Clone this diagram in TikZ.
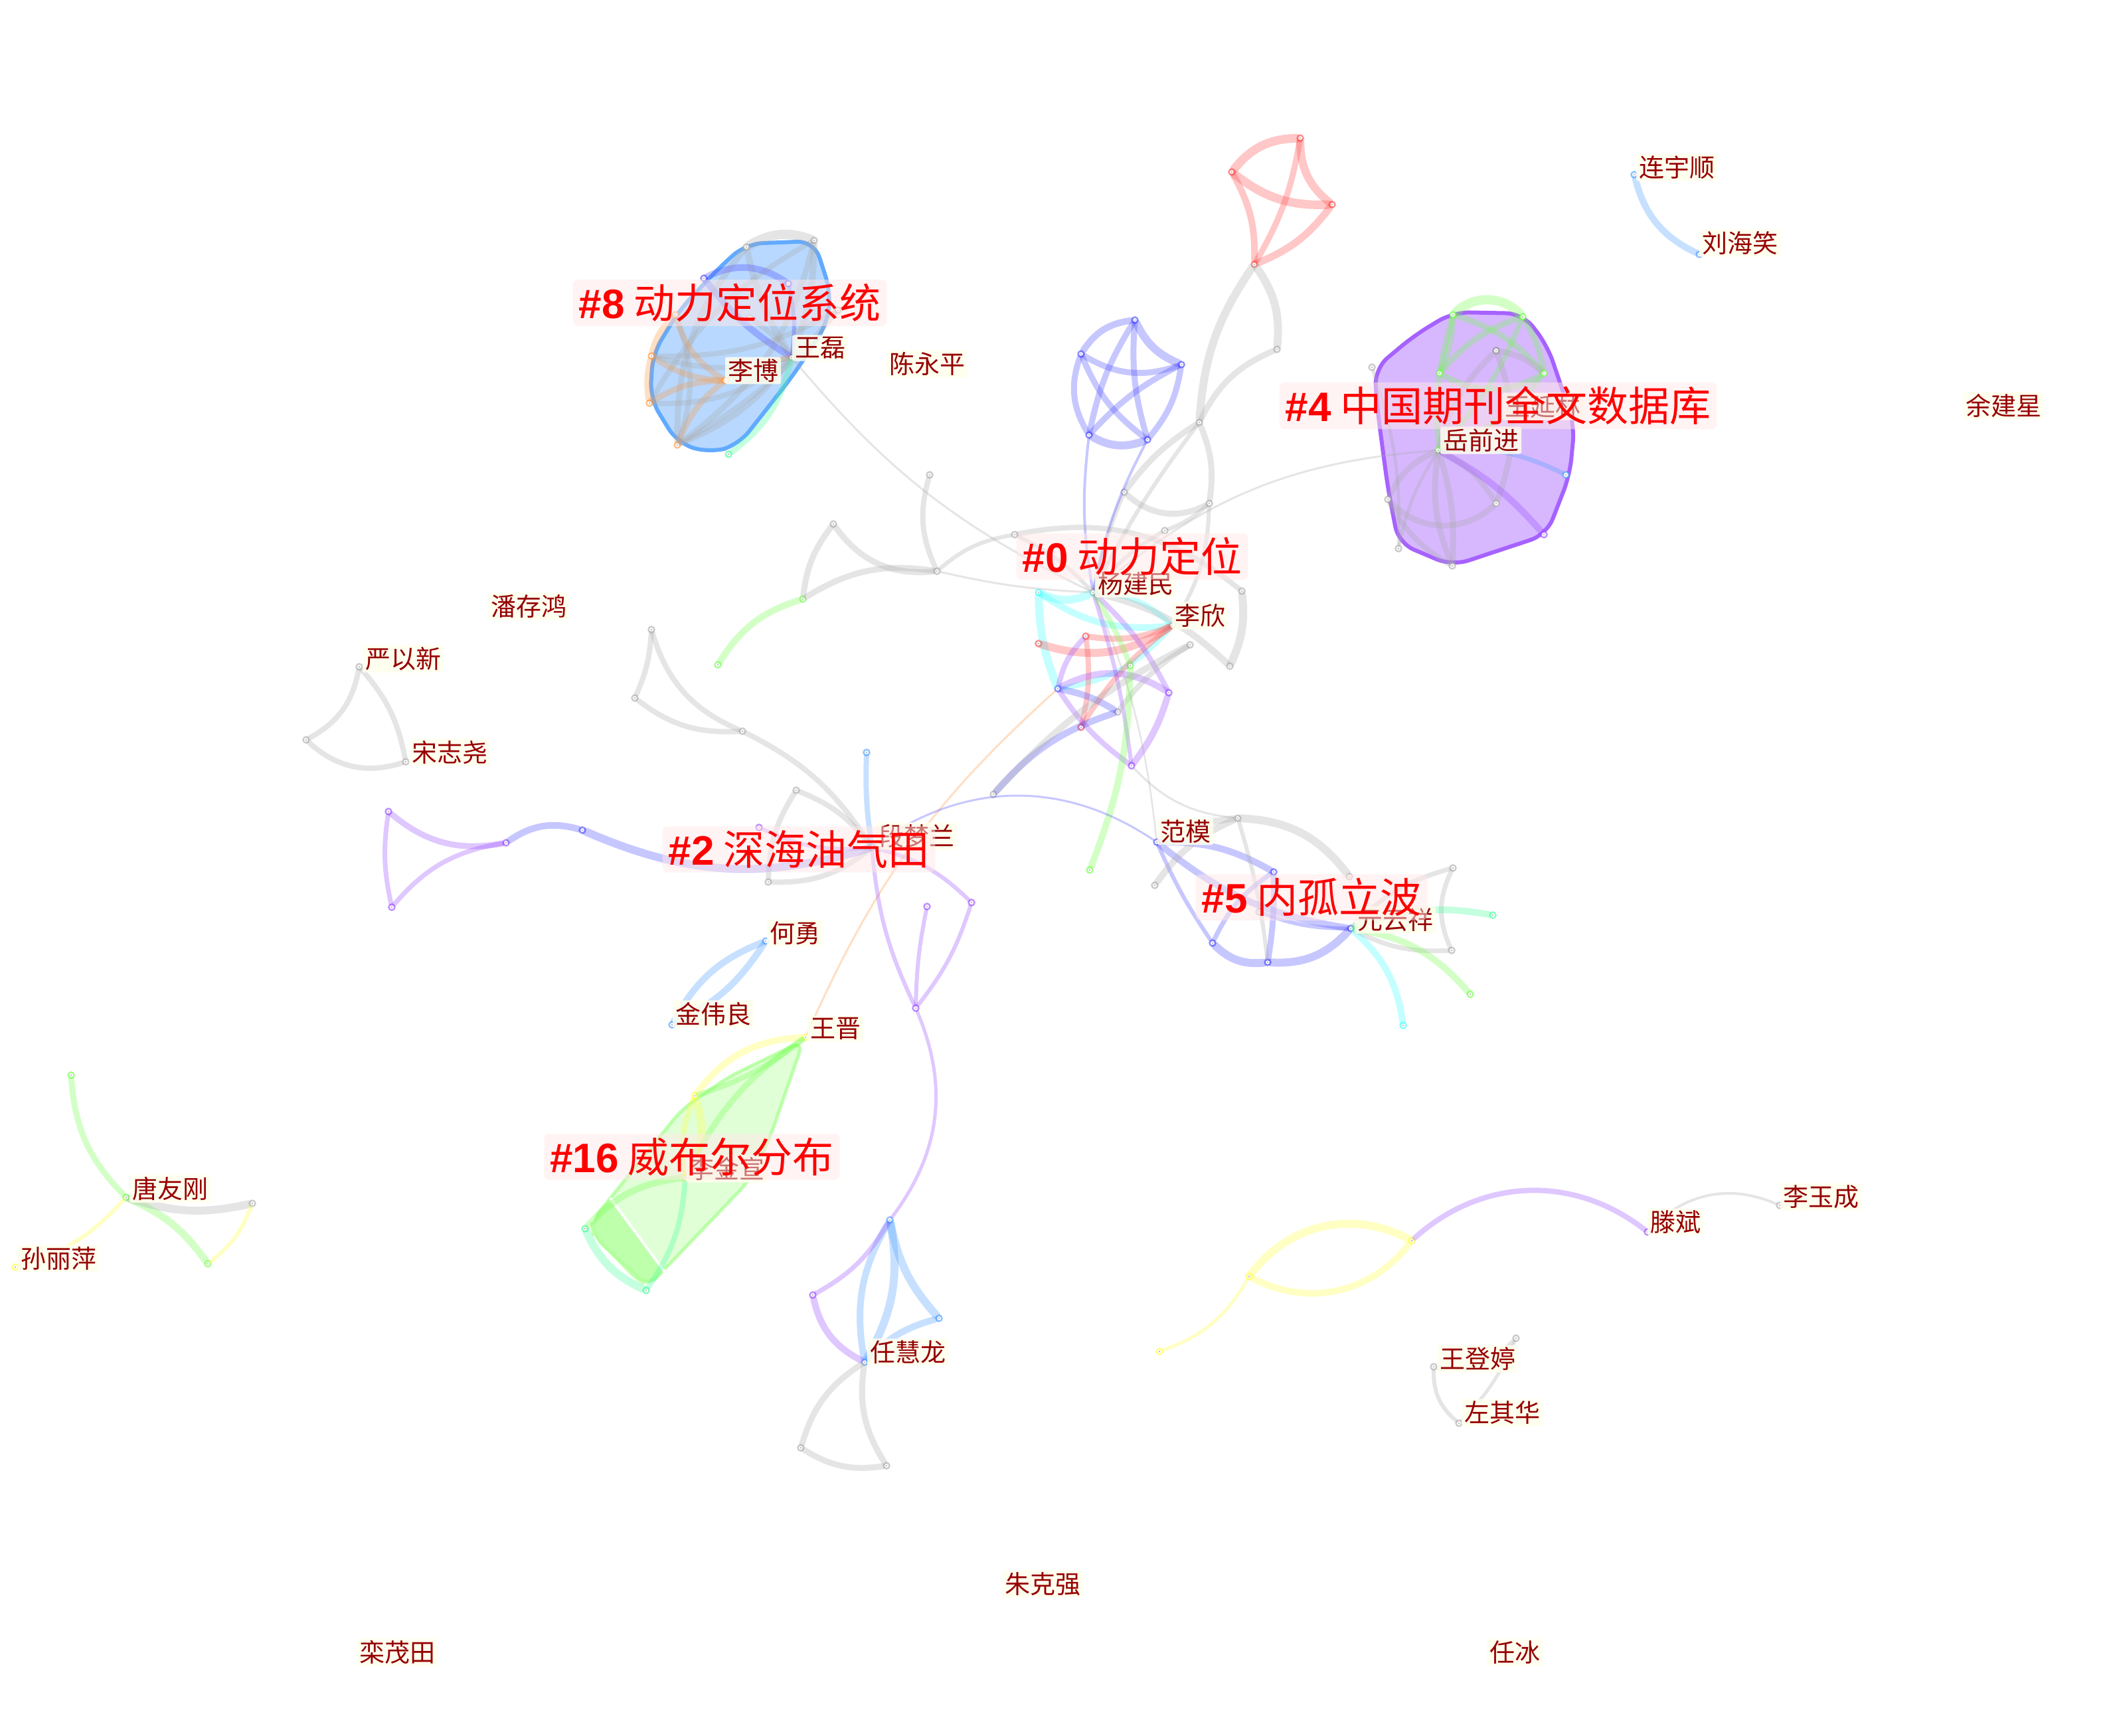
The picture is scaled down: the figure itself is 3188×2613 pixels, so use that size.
\documentclass[tikz,border=0pt]{standalone}
\usepackage{fontspec}
\newfontfamily\cjk{Noto Sans CJK SC}
\newfontfamily\latinb{Liberation Sans}
\definecolor{cgray}{RGB}{170,170,170}
\definecolor{cblue}{RGB}{70,70,255}
\definecolor{cred}{RGB}{255,70,70}
\definecolor{ccyan}{RGB}{60,255,255}
\definecolor{cpurple}{RGB}{150,70,255}
\definecolor{cgreen}{RGB}{110,255,70}
\definecolor{cyellow}{RGB}{255,255,60}
\definecolor{corange}{RGB}{255,150,60}
\definecolor{cteal}{RGB}{60,255,150}
\definecolor{clblue}{RGB}{70,155,255}
\definecolor{authred}{RGB}{150,0,0}
\definecolor{ivory}{RGB}{255,255,238}
\definecolor{labpink}{RGB}{255,232,232}
\tikzset{
  edgebase/.style={line cap=round, draw opacity=0.3},
  eG/.style={edgebase, draw=cgray, line width=#1}, eG/.default=10pt,
  eB/.style={edgebase, draw=cblue, line width=#1}, eB/.default=10pt,
  eR/.style={edgebase, draw=cred, line width=#1}, eR/.default=10pt,
  eC/.style={edgebase, draw=ccyan, line width=#1}, eC/.default=10pt,
  eP/.style={edgebase, draw=cpurple, line width=#1}, eP/.default=10pt,
  eN/.style={edgebase, draw=cgreen, line width=#1}, eN/.default=10pt,
  eY/.style={edgebase, draw=cyellow, line width=#1}, eY/.default=10pt,
  eO/.style={edgebase, draw=corange, line width=#1}, eO/.default=10pt,
  eT/.style={edgebase, draw=cteal, line width=#1}, eT/.default=10pt,
  eL/.style={edgebase, draw=clblue, line width=#1}, eL/.default=10pt,
  nd/.style={circle, inner sep=0pt, minimum size=9pt, fill=white, draw=#1, line width=2.5pt, draw opacity=0.6},
  nd/.default=cgray,
  alab/.style={fill=ivory, fill opacity=0.85, text opacity=1, text=authred, rounded corners=3pt,
    font=\cjk\fontsize{38}{40}\selectfont, inner xsep=4pt, inner ysep=3pt},
  clab/.style={fill=labpink, fill opacity=0.5, text opacity=1, text=red, rounded corners=8pt,
    font=\cjk\fontsize{62}{70}\selectfont, inner xsep=9pt, inner ysep=6pt},
  hullA/.style={fill=clblue!45, fill opacity=0.85, draw=clblue!85, line width=6pt, rounded corners=25pt, line join=round},
  hullB/.style={fill=cpurple!45, fill opacity=0.85, draw=cpurple!85, line width=6pt, rounded corners=25pt, line join=round},
  hullC/.style={fill=cgreen!30, fill opacity=0.7, draw=cgreen!70, draw opacity=0.6, line width=5pt, rounded corners=20pt, line join=round},
}
\begin{document}
\begin{tikzpicture}[x=1pt,y=-1pt]
\useasboundingbox (0,0) rectangle (3188,2613);
\fill[white] (0,0) rectangle (3188,2613);

% ---------------- hulls
\path[hullA] (1124,367) -- (1226,363) -- (1251,440) -- (1246,487) -- (1193,567) -- (1112,670) -- (1068,682) -- (1020,667) -- (979,600) -- (983,533) -- (1023,467) -- (1086,400) -- cycle;
\path[hullB] (2188,470) -- (2293,472) -- (2330,520) -- (2371,640) -- (2364,715) -- (2329,805) -- (2187,852) -- (2106,818) -- (2090,735) -- (2074,615) -- (2070,555) -- (2130,505) -- cycle;
\path[hullC] (1210,1567) -- (1159,1714) -- (1129,1777) -- (976,1937) -- (894,1862) -- (891,1839) -- (1027,1670) -- (1098,1621) -- cycle;
\fill[cgreen!55, fill opacity=0.7, rounded corners=15pt] (919,1804) -- (891,1839) -- (894,1862) -- (960,1931) -- (976,1937) -- (1001,1915) -- cycle;
\draw[white, line width=4pt] (919,1804) -- (1001,1915);

% ---------------- nodes
% cluster 8
\node[nd] (a1) at (1124,372) {};
\node[nd] (a2) at (1226,362) {};
\node[nd=cblue] (a3) at (1060,419) {};
\node[nd=cblue] (a4) at (1187,427) {};
\node[nd] (a5) at (1129,479) {};
\node[nd] (a6) at (1262,467) {};
\node[nd=corange] (a7) at (1017,474) {};
\node[nd=corange] (a8) at (981,536) {};
\node[nd] (wl) at (1192,538) {};
\node[nd=corange] (lb) at (1092,573) {};
\node[nd=corange] (a9) at (978,607) {};
\node[nd=corange] (a10) at (1020,670) {};
\node[nd=cteal] (a11) at (1097,684) {};
% cluster 4
\node[nd=cgreen] (p1) at (2188,474) {};
\node[nd=cgreen] (p2) at (2293,477) {};
\node[nd=cgreen] (p3) at (2168,562) {};
\node[nd=cgreen] (p4) at (2325,562) {};
\node[nd=gray] (p5) at (2253,528) {};
\node[nd=cgreen] (yq) at (2166,678) {};
\node[nd=clblue] (q1) at (2358,715) {};
\node[nd] (q2) at (2090,752) {};
\node[nd] (q3) at (2253,758) {};
\node[nd] (q4) at (2187,852) {};
\node[nd=cpurple] (q5) at (2325,805) {};
\node[nd] (q6) at (2106,826) {};
\node[nd] (q7) at (2066,553) {};
% red cluster
\node[nd=cred] (r1) at (1958,208) {};
\node[nd=cred] (r2) at (1855,259) {};
\node[nd=cred] (r3) at (2006,308) {};
\node[nd=cred] (r4) at (1889,398) {};
% gray chain
\node[nd] (g1) at (1923,526) {};
\node[nd] (g2) at (1806,636) {};
\node[nd] (g3) at (1693,741) {};
\node[nd] (g4) at (1821,758) {};
% blue pentagon
\node[nd=cblue] (b1) at (1709,482) {};
\node[nd=cblue] (b2) at (1628,533) {};
\node[nd=cblue] (b3) at (1779,549) {};
\node[nd=cblue] (b4) at (1640,655) {};
\node[nd=cblue] (b5) at (1728,662) {};
% cluster 0
\node[nd] (yjm) at (1646,892) {};
\node[nd=ccyan] (c1) at (1564,892) {};
\node[nd] (lx) at (1765,942) {};
\node[nd=cred] (r5) at (1635,958) {};
\node[nd=cred] (r6) at (1564,969) {};
\node[nd] (c2) at (1792,971) {};
\node[nd] (c3) at (1852,1003) {};
\node[nd] (c4) at (1870,890) {};
\node[nd] (c5) at (1754,799) {};
\node[nd] (c6) at (1528,805) {};
\node[nd] (c7) at (1411,860) {};
\node[nd=cgreen] (gr1) at (1702,1002) {};
\node[nd=cblue] (bl1) at (1593,1037) {};
\node[nd=cpurple] (pu1) at (1760,1043) {};
\node[nd] (c8) at (1683,1072) {};
\node[nd=cred] (r7) at (1628,1095) {};
\node[nd=cpurple] (pu2) at (1704,1153) {};
\node[nd] (c9) at (1496,1196) {};
\node[nd=cgreen] (gre1) at (1641,1310) {};
% left gray group
\node[nd] (n1) at (1400,715) {};
\node[nd] (n2) at (1255,789) {};
\node[nd=cgreen] (gn) at (1209,902) {};
\node[nd=cgreen] (gne) at (1081,1001) {};
\node[nd] (k1) at (1118,1101) {};
\node[nd] (k2) at (956,1051) {};
\node[nd] (k3) at (981,948) {};
% cluster 2
\node[nd] (dml) at (1313,1276) {};
\node[nd=clblue] (d1) at (1305,1133) {};
\node[nd] (d2) at (1199,1190) {};
\node[nd] (d3) at (1157,1328) {};
\node[nd=cpurple] (d4) at (1143,1246) {};
\node[nd=cpurple] (pa) at (1396,1365) {};
\node[nd=cpurple] (pb) at (1463,1359) {};
\node[nd=cpurple] (pc) at (1379,1518) {};
\node[nd=cblue] (e1) at (877,1250) {};
\node[nd=cpurple] (e2) at (762,1269) {};
\node[nd=cpurple] (e3) at (585,1222) {};
\node[nd=cpurple] (e4) at (590,1366) {};
% cluster 5
\node[nd=cblue] (fm) at (1742,1268) {};
\node[nd] (c10) at (1864,1232) {};
\node[nd=cblue] (f1) at (1918,1313) {};
\node[nd=cblue] (f2) at (1826,1420) {};
\node[nd=cblue] (f3) at (1909,1449) {};
\node[nd=cblue] (yyx) at (2034,1398) {};
\node[nd] (f4) at (1896,1373) {};
\node[nd] (f5) at (1739,1333) {};
\node[nd] (f6) at (2032,1320) {};
\node[nd] (f7) at (2188,1307) {};
\node[nd] (f8) at (2186,1431) {};
\node[nd=cteal] (t1) at (2248,1378) {};
\node[nd=cgreen] (t2) at (2214,1497) {};
\node[nd=ccyan] (t3) at (2113,1544) {};
% jin / he
\node[nd=clblue] (jwl) at (1012,1543) {};
\node[nd=clblue] (hy) at (1153,1417) {};
% cluster 16
\node[nd=cyellow] (wj) at (1213,1562) {};
\node[nd=cyellow] (h1) at (1046,1650) {};
\node[nd=cyellow] (ljx) at (1032,1773) {};
\node[nd=cteal] (h2) at (881,1850) {};
\node[nd=cteal] (h3) at (973,1943) {};
% ren huilong
\node[nd=clblue] (rb1) at (1340,1837) {};
\node[nd=cpurple] (rp) at (1224,1950) {};
\node[nd=clblue] (rb2) at (1414,1985) {};
\node[nd=clblue] (rhl) at (1302,2051) {};
\node[nd] (rg1) at (1206,2180) {};
\node[nd] (rg2) at (1335,2207) {};
% yan yixin
\node[nd] (yyxn) at (541,1004) {};
\node[nd] (s1) at (461,1114) {};
\node[nd] (szy) at (611,1147) {};
% tang yougang
\node[nd=cgreen] (tg0) at (107,1619) {};
\node[nd=cgreen] (tyg) at (190,1803) {};
\node[nd] (tg1) at (380,1812) {};
\node[nd=cgreen] (tg2) at (313,1903) {};
\node[nd=cyellow] (slp) at (23,1908) {};
% lian / liu
\node[nd=clblue] (lys) at (2461,263) {};
\node[nd=clblue] (lhx) at (2559,383) {};
% bottom right
\node[nd=cyellow] (y0) at (1746,2035) {};
\node[nd=cyellow] (y1) at (1881,1922) {};
\node[nd=cyellow] (y2) at (2126,1868) {};
\node[nd=cpurple] (tb) at (2481,1855) {};
\node[nd] (lyc) at (2680,1815) {};
\node[nd] (wdt) at (2159,2058) {};
\node[nd] (w1) at (2283,2015) {};
\node[nd] (zqh) at (2197,2143) {};

% ---------------- edges
\begin{scope}
% cluster 8
\draw[eG=14pt] (a1) to[bend left=25] (a2);
\draw[eG=10pt] (a1) to[bend right=10] (wl);
\draw[eG=10pt] (a2) to[bend left=10] (wl);
\draw[eG=9pt] (a1) to[bend right=20] (a10);
\draw[eG=9pt] (a2) to[bend left=20] (a10);
\draw[eG=8pt] (a5) to[bend left=10] (wl);
\draw[eG=8pt] (a6) to[bend left=15] (a8);
\draw[eG=8pt] (a6) to[bend left=10] (a10);
\draw[eG=8pt] (a2) to[bend right=15] (a9);
\draw[eB=10pt] (a3) to[bend left=30] (a4);
\draw[eB=10pt] (a3) to[bend right=10] (wl);
\draw[eB=6pt] (a4) to[bend left=10] (wl);
\draw[eO=10pt] (a7) to[bend right=15] (a8);
\draw[eO=10pt] (a8) to[bend right=10] (a9);
\draw[eO=9pt] (a8) to[bend right=15] (lb);
\draw[eO=9pt] (a9) to[bend left=15] (lb);
\draw[eO=9pt] (a7) to[bend right=20] (lb);
\draw[eO=9pt] (a10) to[bend left=15] (lb);
\draw[eO=8pt] (lb) to[bend left=10] (wl);
\draw[eG=8pt] (a8) to[bend right=15] (wl);
\draw[eG=8pt] (a9) to[bend right=20] (wl);
\draw[eG=8pt] (a10) to[bend right=15] (wl);
\draw[eG=8pt] (a7) to[bend left=20] (a10);
\draw[eT=9pt] (a11) to[bend right=20] (wl);
\draw[eG=3pt] (wl) to[bend right=12] (yjm);
% cluster 4
\draw[eN=14pt] (p1) to[bend left=45] (p2);
\draw[eN=9pt] (p1) to[bend left=10] (p3);
\draw[eN=9pt] (p1) to[bend left=15] (p4);
\draw[eN=9pt] (p2) to[bend right=15] (p3);
\draw[eN=9pt] (p2) to[bend left=10] (p4);
\draw[eN=9pt] (p3) to[bend right=30] (p4);
\draw[eN=8pt] (p1) to[bend right=10] (yq);
\draw[eN=8pt] (p2) to[bend left=10] (yq);
\draw[eN=8pt] (p4) to[bend left=15] (yq);
\draw[eG=9pt] (p5) to[bend left=15] (p4);
\draw[eG=9pt] (p5) to[bend right=15] (yq);
\draw[eG=9pt] (p5) to[bend left=20] (q3);
\draw[eG=9pt] (yq) to[bend right=20] (q2);
\draw[eG=9pt] (q2) to[bend right=45] (q3);
\draw[eG=9pt] (yq) to[bend right=15] (q4);
\draw[eG=9pt] (yq) to[bend left=10] (q4);
\draw[eG=8pt] (q2) to[bend right=15] (q4);
\draw[eG=8pt] (yq) to[bend left=15] (q3);
\draw[eG=5pt] (yq) to[bend right=10] (q6);
\draw[eG=5pt] (q7) to[bend left=10] (q6);
\draw[eP=10pt] (yq) to[bend left=10] (q5);
\draw[eL=7pt] (yq) to[bend left=15] (q1);
\draw[eG=3pt] (yq) to[bend right=18] (yjm);
% red cluster
\draw[eR=13pt] (r2) to[bend left=25] (r1);
\draw[eR=13pt] (r2) to[bend right=20] (r3);
\draw[eR=10pt] (r2) to[bend left=15] (r4);
\draw[eR=12pt] (r1) to[bend right=25] (r3);
\draw[eR=9pt] (r1) to[bend left=10] (r4);
\draw[eR=11pt] (r3) to[bend left=15] (r4);
% gray chain
\draw[eG=12pt] (r4) to[bend right=15] (g2);
\draw[eG=12pt] (r4) to[bend left=20] (g1);
\draw[eG=9pt] (g1) to[bend right=20] (g2);
\draw[eG=9pt] (g2) to[bend right=10] (g3);
\draw[eG=9pt] (g2) to[bend left=15] (g4);
\draw[eG=9pt] (g3) to[bend right=35] (g4);
\draw[eG=6pt] (g2) to[bend right=5] (yjm);
\draw[eG=6pt] (g3) to[bend right=5] (yjm);
\draw[eG=6pt] (g4) to[bend left=10] (c5);
\draw[eG=6pt] (c5) to[bend right=10] (yjm);
\draw[eG=6pt] (g4) to[bend left=15] (lx);
% blue pentagon
\draw[eB=10pt] (b1) to[bend right=25] (b2);
\draw[eB=12pt] (b1) to[bend right=20] (b3);
\draw[eB=9pt] (b1) to[bend right=10] (b4);
\draw[eB=9pt] (b1) to[bend right=10] (b5);
\draw[eB=9pt] (b2) to[bend right=25] (b3);
\draw[eB=9pt] (b2) to[bend right=25] (b4);
\draw[eB=9pt] (b2) to[bend right=15] (b5);
\draw[eB=9pt] (b3) to[bend right=10] (b4);
\draw[eB=9pt] (b3) to[bend left=15] (b5);
\draw[eB=12pt] (b4) to[bend right=25] (b5);
\draw[eB=4pt] (b4) to[bend right=8] (yjm);
\draw[eB=4pt] (b5) to[bend right=8] (yjm);
% cluster 0
\draw[eC=12pt] (c1) to[bend right=25] (yjm);
\draw[eC=10pt] (c1) to[bend right=20] (lx);
\draw[eC=8pt] (yjm) to[bend left=20] (lx);
\draw[eC=12pt] (c1) to[bend right=10] (bl1);
\draw[eC=8pt] (bl1) to[bend right=20] (lx);
\draw[eR=12pt] (r6) to[bend right=25] (lx);
\draw[eR=9pt] (r5) to[bend right=15] (lx);
\draw[eR=8pt] (r5) to[bend left=10] (r7);
\draw[eR=8pt] (r7) to[bend left=10] (lx);
\draw[eP=8pt] (yjm) to[bend left=10] (pu1);
\draw[eP=6pt] (yjm) to[bend left=5] (pu2);
\draw[eP=10pt] (bl1) to[bend left=30] (pu1);
\draw[eP=8pt] (bl1) to[bend right=10] (pu2);
\draw[eP=10pt] (pu1) to[bend left=10] (pu2);
\draw[eP=8pt] (r5) to[bend right=15] (bl1);
\draw[eB=10pt] (bl1) to[bend left=10] (c8);
\draw[eB=10pt] (c8) to[bend right=15] (c9);
\draw[eG=10pt] (c2) to[bend right=10] (c9);
\draw[eG=8pt] (c8) to[bend left=10] (c2);
\draw[eG=12pt] (c4) to[bend left=15] (c3);
\draw[eG=10pt] (yjm) to[bend left=15] (c3);
\draw[eG=8pt] (c6) to[bend left=25] (c4);
\draw[eG=6pt] (c7) to[bend left=15] (c6);
\draw[eG=3pt] (c7) to[bend right=5] (yjm);
\draw[eG=6pt] (c6) to[bend left=10] (yjm);
\draw[eN=8pt] (yjm) to[bend left=5] (gr1);
\draw[eN=10pt] (gr1) to[bend left=10] (gre1);
\draw[eG=3pt] (pu2) to[bend right=20] (c10);
\draw[eG=2.5pt] (yjm) to[bend left=8] (fm);
\draw[eO=3pt] (bl1) to[bend right=12] (wj);
% left gray group
\draw[eG=8pt] (n1) to[bend right=20] (c7);
\draw[eG=9pt] (n2) to[bend right=30] (c7);
\draw[eG=9pt] (n2) to[bend right=15] (gn);
\draw[eG=9pt] (gn) to[bend left=20] (c7);
\draw[eN=10pt] (gn) to[bend right=20] (gne);
\draw[eG=8pt] (k3) to[bend left=10] (k2);
\draw[eG=8pt] (k3) to[bend right=25] (k1);
\draw[eG=8pt] (k2) to[bend right=20] (k1);
\draw[eG=8pt] (k1) to[bend left=15] (dml);
% cluster 2
\draw[eL=8pt] (d1) to[bend right=5] (dml);
\draw[eG=8pt] (d2) to[bend left=15] (dml);
\draw[eG=8pt] (d3) to[bend right=20] (dml);
\draw[eG=8pt] (d2) to[bend right=15] (d3);
\draw[eP=6pt] (d4) to[bend right=15] (dml);
\draw[eP=6pt] (dml) to[bend right=10] (pc);
\draw[eP=6pt] (dml) to[bend left=15] (pb);
\draw[eP=6pt] (pa) to[bend right=5] (pc);
\draw[eP=6pt] (pb) to[bend left=10] (pc);
\draw[eB=12pt] (e1) to[bend right=20] (dml);
\draw[eB=10pt] (e2) to[bend left=25] (e1);
\draw[eP=9pt] (e3) to[bend right=25] (e2);
\draw[eP=7pt] (e3) to[bend right=10] (e4);
\draw[eP=7pt] (e4) to[bend left=20] (e2);
\draw[eB=3pt] (dml) to[bend left=35] (fm);
\draw[eP=5pt] (pc) to[bend left=30] (rb1);
% cluster 5
\draw[eB=10pt] (fm) to[bend left=15] (f1);
\draw[eB=10pt] (fm) to[bend right=15] (yyx);
\draw[eB=6pt] (fm) to[bend right=5] (f2);
\draw[eB=9pt] (f1) to[bend left=5] (f3);
\draw[eB=12pt] (f2) to[bend right=25] (f3);
\draw[eB=7pt] (f2) to[bend left=15] (f1);
\draw[eB=12pt] (f3) to[bend right=25] (yyx);
\draw[eB=6pt] (f4) to[bend right=10] (yyx);
\draw[eG=10pt] (c10) to[bend right=10] (fm);
\draw[eG=10pt] (c10) to[bend right=15] (f5);
\draw[eG=12pt] (c10) to[bend left=25] (f6);
\draw[eG=6pt] (c10) to[bend left=5] (f3);
\draw[eG=7pt] (f7) to[bend right=25] (f8);
\draw[eG=7pt] (f7) to[bend right=15] (yyx);
\draw[eG=7pt] (f8) to[bend left=15] (yyx);
\draw[eT=10pt] (yyx) to[bend left=15] (t1);
\draw[eN=10pt] (yyx) to[bend left=20] (t2);
\draw[eC=10pt] (yyx) to[bend left=20] (t3);
% jin / he
\draw[eL=10pt] (jwl) to[bend left=20] (hy);
\draw[eL=10pt] (jwl) to[bend right=15] (hy);
% cluster 16
\draw[eY=10pt] (h1) to[bend left=25] (wj);
\draw[eN=8pt] (wj) to[bend left=10] (h1);
\draw[eN=9pt] (wj) to[bend right=15] (ljx);
\draw[eY=12pt] (h1) to[bend left=25] (ljx);
\draw[eY=8pt] (h1) to[bend right=15] (ljx);
\draw[eN=10pt] (ljx) to[bend right=20] (h2);
\draw[eT=12pt] (h2) to[bend right=20] (h3);
\draw[eT=8pt] (ljx) to[bend left=15] (h3);
% ren huilong
\draw[eL=10pt] (rb1) to[bend right=20] (rhl);
\draw[eL=12pt] (rb1) to[bend left=20] (rhl);
\draw[eL=12pt] (rb1) to[bend right=15] (rb2);
\draw[eL=10pt] (rb2) to[bend right=15] (rhl);
\draw[eP=10pt] (rp) to[bend right=25] (rhl);
\draw[eP=7pt] (rp) to[bend right=15] (rb1);
\draw[eG=9pt] (rhl) to[bend right=20] (rg1);
\draw[eG=9pt] (rhl) to[bend right=20] (rg2);
\draw[eG=9pt] (rg1) to[bend right=20] (rg2);
% yan yixin
\draw[eG=8pt] (yyxn) to[bend left=25] (s1);
\draw[eG=8pt] (yyxn) to[bend left=15] (szy);
\draw[eG=8pt] (s1) to[bend right=30] (szy);
% tang yougang
\draw[eN=9pt] (tg0) to[bend right=20] (tyg);
\draw[eN=11pt] (tyg) to[bend left=15] (tg2);
\draw[eG=12pt] (tyg) to[bend right=15] (tg1);
\draw[eY=6pt] (tg1) to[bend left=15] (tg2);
\draw[eY=6pt] (tyg) to[bend left=15] (slp);
% lian / liu
\draw[eL=10pt] (lys) to[bend right=25] (lhx);
% bottom right
\draw[eY=5pt] (y0) to[bend right=20] (y1);
\draw[eY=12pt] (y1) to[bend left=40] (y2);
\draw[eY=10pt] (y1) to[bend right=40] (y2);
\draw[eP=8pt] (y2) to[bend left=40] (tb);
\draw[eG=4pt] (tb) to[bend left=35] (lyc);
\draw[eG=6pt] (wdt) to[bend right=25] (zqh);
\draw[eG=6pt] (wdt) to[bend right=25] (w1);
\draw[eG=5pt] (w1) to[bend left=10] (zqh);
\end{scope}

% node centres on top of edges
\foreach \n in {a1,a2,a3,a4,a5,a6,a7,a8,wl,lb,a9,a10,a11,p1,p2,p3,p4,p5,yq,q1,q2,q3,q4,q5,q6,q7,r1,r2,r3,r4,g1,g2,g3,g4,b1,b2,b3,b4,b5,yjm,c1,lx,r5,r6,c2,c3,c4,c5,c6,c7,gr1,bl1,pu1,c8,r7,pu2,c9,gre1,n1,n2,gn,gne,k1,k2,k3,dml,d1,d2,d3,d4,pa,pb,pc,e1,e2,e3,e4,fm,c10,f1,f2,f3,yyx,f4,f5,f6,f7,f8,t1,t2,t3,jwl,hy,wj,h1,ljx,h2,h3,rb1,rp,rb2,rhl,rg1,rg2,yyxn,s1,szy,tg0,tyg,tg1,tg2,slp,lys,lhx,y0,y1,y2,tb,lyc,wdt,w1,zqh}
  {\fill[white] (\n.center) circle (2.6pt); \fill[gray!70] (\n.center) circle (1.2pt);}

% ---------------- author labels
\node[alab] (tWL) at (1235,524) {王磊};
\node[alab] (tLB) at (1134,558) {李博};
\node[alab] (tCYP) at (1396,548) {陈永平};
\node[alab] (tYQJ) at (2230,663) {岳前进};
\node[alab] (tWYL) at (2323,612) {王延林};
\node[alab] (tYJM) at (1710,879) {杨建民};
\node[alab] (tLX) at (1807,927) {李欣};
\node[alab] (tDML) at (1380,1259) {段梦兰};
\node[alab] (tFM) at (1785,1252) {范模};
\node[alab] (tYYX) at (2101,1385) {元云祥};
\node[alab] (tHY) at (1197,1405) {何勇};
\node[alab] (tJWL) at (1074,1527) {金伟良};
\node[alab] (tWJ) at (1258,1549) {王晋};
\node[alab] (tLJX) at (1094,1760) {李金宣};
\node[alab] (tRHL) at (1367,2036) {任慧龙};
\node[alab] (tPCH) at (796,913) {潘存鸿};
\node[alab] (tYYXn) at (607,992) {严以新};
\node[alab] (tSZY) at (677,1133) {宋志尧};
\node[alab] (tTYG) at (256,1790) {唐友刚};
\node[alab] (tSLP) at (88,1895) {孙丽萍};
\node[alab] (tLYS) at (2525,252) {连宇顺};
\node[alab] (tLHX) at (2620,366) {刘海笑};
\node[alab] (tYJX) at (3017,611) {余建星};
\node[alab] (tTB) at (2523,1840) {滕斌};
\node[alab] (tLYC) at (2742,1802) {李玉成};
\node[alab] (tWDT) at (2225,2046) {王登婷};
\node[alab] (tZQH) at (2262,2127) {左其华};
\node[alab] (tZKQ) at (1570,2385) {朱克强};
\node[alab] (tLMT) at (598,2488) {栾茂田};
\node[alab] (tRB) at (2281,2488) {任冰};

% ---------------- cluster labels
\node[clab] (L8) at (1099,456) {{\latinb\bfseries\#8} 动力定位系统};
\node[clab] (L4) at (2256,611) {{\latinb\bfseries\#4} 中国期刊全文数据库};
\node[clab] (L0) at (1705,838) {{\latinb\bfseries\#0} 动力定位};
\node[clab] (L2) at (1203,1279) {{\latinb\bfseries\#2} 深海油气田};
\node[clab] (L5) at (1975,1351) {{\latinb\bfseries\#5} 内孤立波};
\node[clab] (L16) at (1042,1742) {{\latinb\bfseries\#16} 威布尔分布};
\end{tikzpicture}
\end{document}
